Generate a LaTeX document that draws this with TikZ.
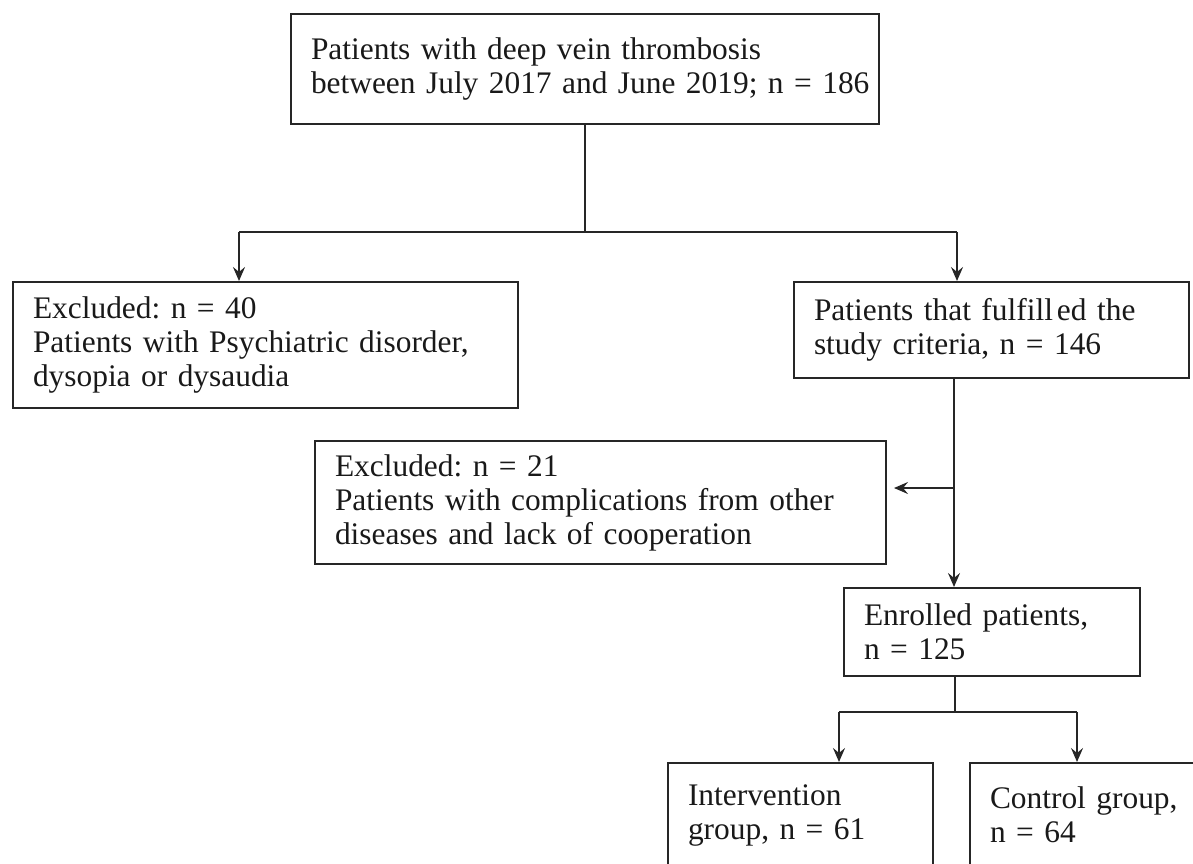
\documentclass[tikz,border=0pt]{standalone}
\usepackage{fontspec}
\setmainfont{Liberation Serif}
\frenchspacing
\usetikzlibrary{arrows.meta}
\begin{document}
\begin{tikzpicture}[x=0.5pt,y=-0.5pt,
  box/.style={draw=black!85, line width=1pt, anchor=north west, inner xsep=10pt, inner ysep=0pt,
    align=left, font=\fontsize{15.7}{17}\selectfont, text=black!90},
  conn/.style={draw=black!85, line width=1.1pt},
  arr/.style={conn, -{Stealth[length=7pt,width=6pt,inset=2.5pt]}}]
\useasboundingbox (0,0) rectangle (1193,863);
\clip (0,0) rectangle (1193,863);
\node[box, minimum width=294pt, minimum height=55pt, text width=274pt] (b1) at (290,13)
  {\mbox{Patients with deep vein thrombosis}\\\mbox{between July 2017 and June 2019; n = 186}};
\node[box, minimum width=252.5pt, minimum height=63pt, text width=232.5pt] (b2) at (12,281)
  {\mbox{Excluded: n = 40}\\\mbox{Patients with Psychiatric disorder,}\\\mbox{dysopia or dysaudia}};
\node[box, minimum width=197.5pt, minimum height=48pt, text width=177.5pt] (b3) at (793,281)
  {\mbox{Patients that fulfill\kern2pt ed the}\\\mbox{study criteria, n = 146}};
\node[box, minimum width=285.5pt, minimum height=61.5pt, text width=265.5pt] (b4) at (314,440)
  {\mbox{Excluded: n = 21}\\\mbox{Patients with complications from other}\\\mbox{diseases and lack of cooperation}};
\node[box, minimum width=148pt, minimum height=44pt, text width=128pt] (b5) at (843,587)
  {\mbox{Enrolled patients,}\\\mbox{n = 125}};
\node[box, minimum width=132.5pt, minimum height=52pt, text width=112.5pt] (b6) at (667,762)
  {\mbox{Intervention}\\\mbox{group, n = 61}};
\node[box, minimum width=135.5pt, minimum height=52pt, text width=115.5pt] (b7) at (969,762)
  {\mbox{Control group,}\\\mbox{n = 64}};
\coordinate (jl) at (239,232);
\coordinate (jr) at (957,232);
\draw[conn] (b1.south) -- (b1.south |- jl);
\draw[conn] (jl) -- (jr);
\draw[arr] (jl) -- (jl |- b2.north);
\draw[arr] (jr) -- (jr |- b3.north);
\coordinate (c3) at (954,488);
\draw[arr] (c3 |- b3.south) -- (c3 |- b5.north);
\draw[arr, shorten >=3.5pt] (c3) -- (c3 -| b4.east);
\coordinate (c5) at (955,712);
\coordinate (jl2) at (839,712);
\coordinate (jr2) at (1077,712);
\draw[conn] (c5 |- b5.south) -- (c5);
\draw[conn] (jl2) -- (jr2);
\draw[arr] (jl2) -- (jl2 |- b6.north);
\draw[arr] (jr2) -- (jr2 |- b7.north);
\end{tikzpicture}
\end{document}
